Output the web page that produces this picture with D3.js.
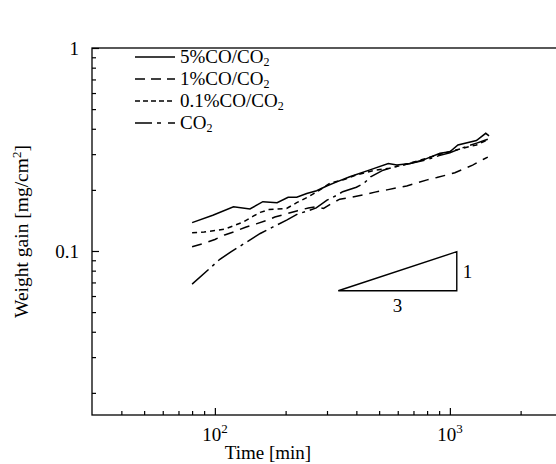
<!DOCTYPE html>
<html><head><meta charset="utf-8">
<script src="https://cdn.jsdelivr.net/npm/d3@7/dist/d3.min.js"></script>
<style>
body{margin:0;background:#fff}
svg{display:block}
text{font-family:"Liberation Serif","Times New Roman",serif;fill:#000}
</style>
</head><body>
<svg id="c" width="556" height="464"></svg>
<script>
// ---- data ----
const seriesNames = ["5%CO/CO", "1%CO/CO", "0.1%CO/CO", "CO"];
const time5 = [80, 98, 120, 141, 160, 184, 205, 223, 246, 271, 299, 330, 375, 457, 547, 595, 677, 771, 908, 1000, 1082, 1297, 1421, 1468];
const gain5 = [0.138, 0.150, 0.165, 0.161, 0.175, 0.173, 0.184, 0.184, 0.192, 0.198, 0.209, 0.219, 0.232, 0.251, 0.270, 0.265, 0.270, 0.281, 0.303, 0.308, 0.333, 0.350, 0.380, 0.369];
const time1 = [80, 90, 100, 110, 120, 135, 150, 165, 180, 200, 225, 250, 270, 290, 310, 340, 380, 430, 480, 540, 600, 655, 720, 800, 880, 970, 1050, 1140, 1250, 1390, 1450];
const gain1 = [0.105, 0.109, 0.114, 0.120, 0.124, 0.131, 0.136, 0.141, 0.147, 0.152, 0.158, 0.163, 0.165, 0.162, 0.170, 0.180, 0.184, 0.189, 0.195, 0.200, 0.205, 0.209, 0.216, 0.224, 0.230, 0.237, 0.243, 0.253, 0.265, 0.283, 0.290];
const time01 = [80, 90, 100, 110, 120, 132, 145, 156, 170, 185, 202, 223, 250, 280, 309, 352, 400, 472, 556, 655, 771, 938, 1141, 1297, 1440];
const gain01 = [0.123, 0.124, 0.126, 0.128, 0.133, 0.139, 0.148, 0.155, 0.160, 0.161, 0.162, 0.173, 0.185, 0.200, 0.216, 0.224, 0.237, 0.249, 0.256, 0.268, 0.283, 0.303, 0.321, 0.333, 0.352];
const timeCO2 = [80, 95, 105, 117, 137, 156, 176, 202, 225, 250, 270, 300, 330, 350, 400, 430, 460, 520, 600, 700, 800, 900, 1000, 1100, 1200, 1300, 1400, 1450];
const gainCO2 = [0.0687, 0.082, 0.091, 0.099, 0.111, 0.122, 0.131, 0.142, 0.152, 0.158, 0.163, 0.178, 0.188, 0.196, 0.206, 0.215, 0.232, 0.250, 0.262, 0.272, 0.282, 0.295, 0.305, 0.318, 0.330, 0.340, 0.350, 0.355];
const xMajorTicks = [100, 1000];
const xMajorExp = ["2", "3"];
const yMajorTicks = [0.1, 1];
const yTickLabels = ["0.1", "1"];
const slopeT = [335, 1070, 1070];
const slopeV = [0.0637, 0.0637, 0.0992];
const slopeLabels = ["1", "3"];

// ---- layout ----
const L = 92, R = 562, T = 48, B = 415;
const svg = d3.select("#c");
const x = d3.scaleLog().domain([30, 3000]).range([L, R]);
const y = d3.scaleLog().domain([0.01556, 1]).range([B, T]);

function minorTicks(lo, hi) {
  const out = [];
  for (let e = -3; e <= 4; e++) {
    for (let m = 2; m <= 9; m++) {
      const v = m * Math.pow(10, e);
      if (v > lo * 1.0001 && v < hi * 0.9999) out.push(+v.toPrecision(3));
    }
  }
  return out;
}

// frame
svg.append("rect").attr("x", L).attr("y", T).attr("width", R - L).attr("height", B - T)
  .attr("fill", "none").attr("stroke", "#000").attr("stroke-width", 1.3);

// x axis
const gx = svg.append("g").attr("transform", `translate(0,${B})`);
gx.call(d3.axisBottom(x).tickValues(minorTicks(30, 3000)).tickSizeInner(-4).tickSizeOuter(0).tickFormat(""));
gx.append("g").call(d3.axisBottom(x).tickValues(xMajorTicks).tickSizeInner(-7).tickSizeOuter(0).tickFormat(""));
gx.selectAll("path.domain").remove();
gx.selectAll("line").attr("stroke", "#000").attr("stroke-width", 1.2);
xMajorTicks.forEach((v, i) => {
  const t = svg.append("text").attr("x", x(v)).attr("y", 441).attr("text-anchor", "middle").attr("font-size", 19);
  t.append("tspan").text("10");
  t.append("tspan").attr("dy", -8).attr("font-size", 13).text(xMajorExp[i]);
});

// y axis
const gy = svg.append("g").attr("transform", `translate(${L},0)`);
gy.call(d3.axisLeft(y).tickValues(minorTicks(0.01556, 1)).tickSizeInner(-4).tickSizeOuter(0).tickFormat(""));
gy.append("g").call(d3.axisLeft(y).tickValues(yMajorTicks).tickSizeInner(-7).tickSizeOuter(0).tickFormat(""));
gy.selectAll("path.domain").remove();
gy.selectAll("line").attr("stroke", "#000").attr("stroke-width", 1.2);
yMajorTicks.forEach((v, i) => {
  svg.append("text").attr("x", 79).attr("y", y(v) + 7).attr("text-anchor", "end").attr("font-size", 19).text(yTickLabels[i]);
});

// axis titles
svg.append("text").attr("x", 268).attr("y", 459).attr("text-anchor", "middle").attr("font-size", 19).text("Time [min]");
const yl = svg.append("text").attr("transform", `translate(28,${(T + B) / 2}) rotate(-90)`).attr("text-anchor", "middle").attr("font-size", 19.5);
yl.append("tspan").text("Weight gain [mg/cm");
yl.append("tspan").attr("dy", -7).attr("font-size", 13).text("2");
yl.append("tspan").attr("dy", 7).text("]");

// series
const dashes = [null, "10,7", "5,4", "22,5,3,5"];
const series = [[time5, gain5], [time1, gain1], [time01, gain01], [timeCO2, gainCO2]];
const line = d3.line().x(d => x(d[0])).y(d => y(d[1]));
series.forEach((s, i) => {
  const pts = s[0].map((t, k) => [t, s[1][k]]);
  svg.append("path").attr("d", line(pts)).attr("fill", "none").attr("stroke", "#000")
    .attr("stroke-width", 1.5).attr("stroke-dasharray", dashes[i]);
});

// legend
const legendDash = [null, "10,6", "5,3", "17,5,4,7"];
seriesNames.forEach((n, i) => {
  const ly = 57 + i * 22;
  svg.append("line").attr("x1", 135).attr("x2", 175).attr("y1", ly).attr("y2", ly)
    .attr("stroke", "#000").attr("stroke-width", 1.3).attr("stroke-dasharray", legendDash[i]);
  const t = svg.append("text").attr("x", 180).attr("y", ly + 6).attr("font-size", 19);
  t.append("tspan").text(n);
  t.append("tspan").attr("dy", 3).attr("font-size", 12).text("2");
});

// slope triangle
const tri = slopeT.map((t, k) => [t, slopeV[k]]);
svg.append("path").attr("d", line(tri) + "Z").attr("fill", "none").attr("stroke", "#000").attr("stroke-width", 1.4);
svg.append("text").attr("x", x(slopeT[1]) + 6).attr("y", y(Math.sqrt(slopeV[0] * slopeV[2])) + 7).attr("font-size", 19).text(slopeLabels[0]);
svg.append("text").attr("x", x(Math.sqrt(slopeT[0] * slopeT[1]))).attr("y", y(slopeV[0]) + 21).attr("text-anchor", "middle").attr("font-size", 19).text(slopeLabels[1]);
</script>
</body></html>
